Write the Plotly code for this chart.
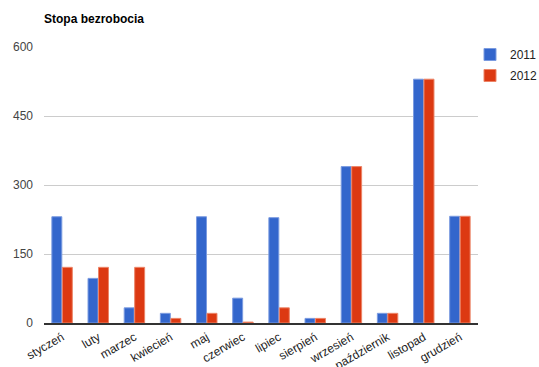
import plotly.graph_objects as go

months = ["styczeń", "luty", "marzec", "kwiecień", "maj", "czerwiec",
          "lipiec", "sierpień", "wrzesień", "październik", "listopad", "grudzień"]
values_2011 = [231, 97, 33, 21, 231, 54, 229, 10, 340, 21, 530, 232]
values_2012 = [121, 121, 121, 10, 21, 2, 33, 10, 340, 21, 530, 232]
y_ticks = [0, 150, 300, 450, 600]

fig = go.Figure()
fig.add_trace(go.Bar(
    name="2011", x=months, y=values_2011, legendgroup="y2011",
    marker=dict(color="#3366cc", line=dict(color="#7b9be0", width=1)),
))
fig.add_trace(go.Bar(
    name="2012", x=months, y=values_2012, legendgroup="y2012",
    marker=dict(color="#dc3912", line=dict(color="#ec8467", width=1)),
))

fig.update_layout(
    width=539, height=367,
    margin=dict(l=44, r=61, t=47, b=44, autoexpand=False),
    paper_bgcolor="white", plot_bgcolor="white",
    font=dict(family="Liberation Sans, Arial, sans-serif", size=12, color="#222222"),
    title=dict(text="<b>Stopa bezrobocia</b>", x=44 / 539, xanchor="left",
               y=1 - 19 / 367, yanchor="middle",
               font=dict(size=12, color="#000000")),
    barmode="group", bargap=0.42, bargroupgap=0.05,
    showlegend=True,
    legend=dict(xref="container", yref="container",
                x=470 / 539, xanchor="left", y=1 - 40 / 367, yanchor="top",
                font=dict(size=12, color="#222222"),
                itemwidth=30, tracegroupgap=2, bgcolor="rgba(0,0,0,0)"),
    yaxis=dict(range=[0, 600], tickvals=y_ticks, showgrid=True,
               gridcolor="#cccccc", gridwidth=1, zeroline=False,
               tickfont=dict(color="#444444", size=12), ticks="",
               ticklabelstandoff=10, fixedrange=True, automargin=False),
    xaxis=dict(showline=True, linecolor="#333333", linewidth=1.5,
               tickangle=-30, ticks="", tickfont=dict(color="#222222", size=12),
               ticklabelstandoff=1, fixedrange=True, automargin=False),
)

fig.write_html("out.html")
